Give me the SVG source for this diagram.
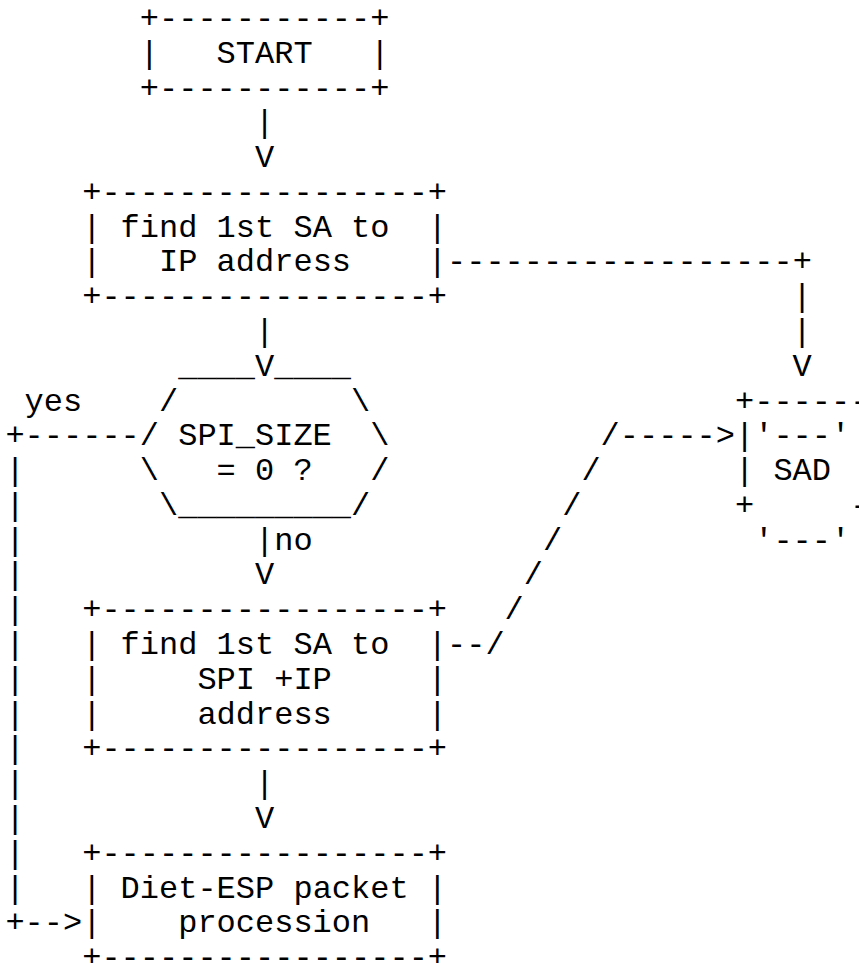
<svg xmlns="http://www.w3.org/2000/svg" width="859" height="963" viewBox="0 0 859 963">
<style>
text{font-family:"Liberation Mono","Courier New",monospace;font-size:32px;fill:#000}
</style>
<rect x="0" y="0" width="859" height="963" fill="#fff"/>
<g id="start">
<text x="139.8" y="28">+-----------+</text>
<text x="139.8" y="62.78">|</text>
<text x="216.6" y="62.78">START</text>
<text x="370.2" y="62.78">|</text>
<text x="139.8" y="97.56">+-----------+</text>
</g>
<g id="find-ip">
<text x="82.2" y="201.9">+-----------------+</text>
<text x="82.2" y="236.68">|</text>
<text x="120.6" y="236.68">find 1st SA to</text>
<text x="427.8" y="236.68">|</text>
<text x="82.2" y="271.46">|</text>
<text x="159" y="271.46">IP address</text>
<text x="427.8" y="271.46">|</text>
<text x="82.2" y="306.24">+-----------------+</text>
</g>
<g id="decision">
<text x="178.2" y="375.8">____</text>
<text x="274.2" y="375.8">____</text>
<text x="159" y="410.58">/</text>
<text x="351" y="410.58">\</text>
<text x="139.8" y="445.36">/</text>
<text x="178.2" y="445.36">SPI_SIZE</text>
<text x="370.2" y="445.36">\</text>
<text x="139.8" y="480.14">\</text>
<text x="216.6" y="480.14">= 0 ?</text>
<text x="370.2" y="480.14">/</text>
<text x="159" y="514.92">\_________/</text>
</g>
<g id="find-spi">
<text x="82.2" y="619.26">+-----------------+</text>
<text x="82.2" y="654.04">|</text>
<text x="120.6" y="654.04">find 1st SA to</text>
<text x="427.8" y="654.04">|</text>
<text x="82.2" y="688.82">|</text>
<text x="197.4" y="688.82">SPI +IP</text>
<text x="427.8" y="688.82">|</text>
<text x="82.2" y="723.6">|</text>
<text x="197.4" y="723.6">address</text>
<text x="427.8" y="723.6">|</text>
<text x="82.2" y="758.38">+-----------------+</text>
</g>
<g id="process">
<text x="82.2" y="862.72">+-----------------+</text>
<text x="82.2" y="897.5">|</text>
<text x="120.6" y="897.5">Diet-ESP packet</text>
<text x="427.8" y="897.5">|</text>
<text x="82.2" y="932.28">|</text>
<text x="178.2" y="932.28">procession</text>
<text x="427.8" y="932.28">|</text>
<text x="82.2" y="967.06">+-----------------+</text>
</g>
<g id="sad">
<text x="735" y="410.58">+------</text>
<text x="735" y="445.36">|</text>
<text x="754.2" y="445.36">'---'</text>
<text x="735" y="480.14">|</text>
<text x="773.4" y="480.14">SAD</text>
<text x="735" y="514.92">+</text>
<text x="850.2" y="514.92">-</text>
<text x="754.2" y="549.7">'---'</text>
</g>
<g id="connectors">
<text x="255" y="132.34">|</text>
<text x="255" y="167.12">V</text>
<text x="447" y="271.46">------------------+</text>
<text x="792.6" y="306.24">|</text>
<text x="255" y="341.02">|</text>
<text x="792.6" y="341.02">|</text>
<text x="255" y="375.8">V</text>
<text x="792.6" y="375.8">V</text>
<text x="24.6" y="410.58">yes</text>
<text x="5.4" y="445.36">+------</text>
<text x="600.6" y="445.36">/-----&gt;</text>
<text x="5.4" y="480.14">|</text>
<text x="581.4" y="480.14">/</text>
<text x="5.4" y="514.92">|</text>
<text x="562.2" y="514.92">/</text>
<text x="5.4" y="549.7">|</text>
<text x="255" y="549.7">|no</text>
<text x="543" y="549.7">/</text>
<text x="5.4" y="584.48">|</text>
<text x="255" y="584.48">V</text>
<text x="523.8" y="584.48">/</text>
<text x="5.4" y="619.26">|</text>
<text x="504.6" y="619.26">/</text>
<text x="5.4" y="654.04">|</text>
<text x="447" y="654.04">--/</text>
<text x="5.4" y="688.82">|</text>
<text x="5.4" y="723.6">|</text>
<text x="5.4" y="758.38">|</text>
<text x="5.4" y="793.16">|</text>
<text x="255" y="793.16">|</text>
<text x="5.4" y="827.94">|</text>
<text x="255" y="827.94">V</text>
<text x="5.4" y="862.72">|</text>
<text x="5.4" y="897.5">|</text>
<text x="5.4" y="932.28">+--&gt;</text>
</g>
</svg>
